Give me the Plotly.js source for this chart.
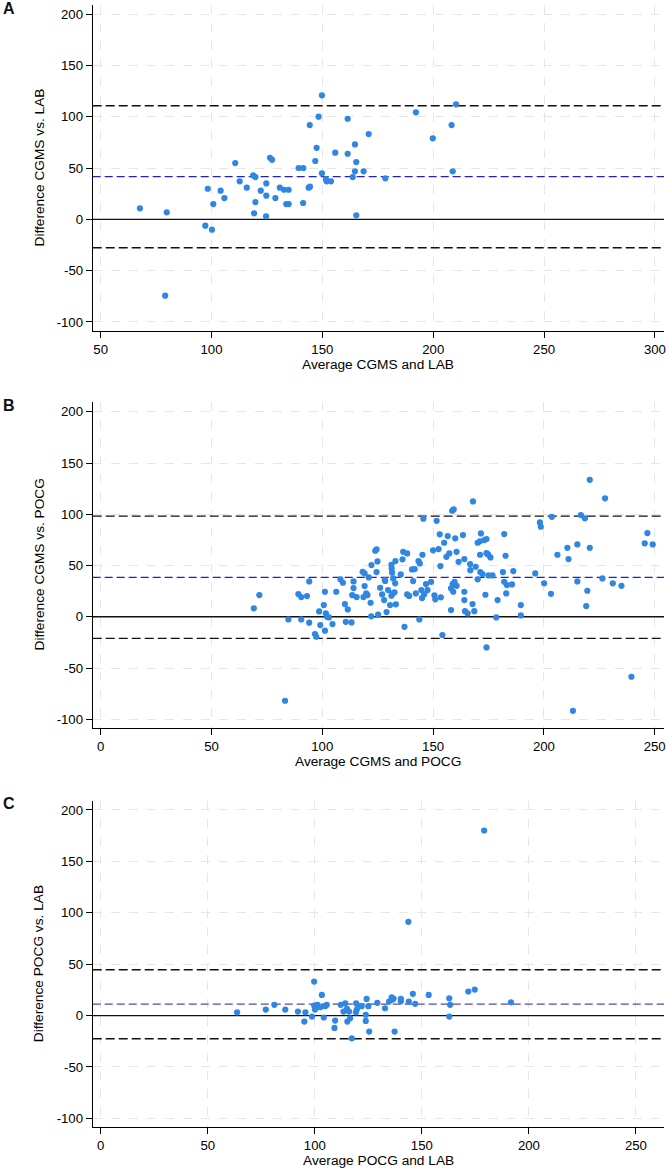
<!DOCTYPE html>
<html>
<head>
<meta charset="utf-8">
<script src="https://cdn.plot.ly/plotly-3.0.1.min.js"></script>
<style>
  html, body { margin: 0; padding: 0; background: #ffffff; }
  #chart { width: 667px; height: 1168px; }
</style>
</head>
<body>
<div id="chart"></div>
<script>
// Panel A: CGMS vs. LAB (average, difference)
const aAvg = [67.7, 79.8, 79.1, 97.2, 100.2, 98.3, 100.8, 104.1, 105.8, 110.7,
  112.7, 115.9, 118.8, 119.8, 119.2, 119.8, 122.2, 124.7, 124.7, 124.6,
  126.4, 127.3, 128.8, 130.8, 132.7, 134.8, 133.7, 134.8, 139.3, 141.4,
  141.3, 143.8, 144.4, 144.3, 146.8, 147.4, 148.3, 149.8, 149.8, 151.6,
  151.9, 153.9, 155.8, 161.4, 161.4, 164.7, 165.3, 164.7, 163.7, 168.6,
  170.9, 165.3, 178.4, 192.2, 199.8, 208.3, 208.8, 210.3];
const aDiff = [10.7, 6.8, -74.4, -6.2, -10.1, 29.8, 14.9, 27.9, 20.7, 54.8,
  37, 30.8, 42.8, 41.2, 5.8, 16.8, 27.9, 35, 23, 2.9,
  60, 58, 20.7, 30.8, 28.8, 28.8, 14.9, 14.9, 50, 50,
  15.9, 30.8, 31.8, 91.8, 56.8, 69.7, 100, 120.8, 44.8, 39.3,
  37, 37, 64.9, 98, 63.9, 73, 55.8, 46.8, 41.2, 46.8,
  83.1, 3.9, 39.9, 104.2, 78.9, 91.8, 46.8, 112];
// lower limit, mean difference, upper limit
const aLimits = [-27.7, 41.5, 110.6];

// Panel B: CGMS vs. POCG
const bAvg = [69.1, 71.6, 83.2, 84.7, 89.2, 90.5, 93.1, 90.5, 94.1, 94.1,
  96.7, 97.3, 98.6, 99.1, 100.7, 101.2, 101.6, 102.1, 103, 101.2,
  104.6, 106.3, 108.2, 109.3, 110.2, 111.5, 110.6, 113.2, 114.1, 114.1,
  113.5, 115.5, 118.2, 119.1, 119.1, 119.8, 118.6, 120.4, 121, 122.2,
  122.1, 121.8, 123.9, 124.5, 124.9, 124.5, 125.2, 126.1, 127, 127.9,
  128.2, 128.4, 129.7, 129, 130.6, 131.2, 131.7, 131.2, 131.3, 131.5,
  132, 132.9, 133, 133.2, 132.6, 135.4, 136.2, 136.5, 137.1, 138.3,
  138.3, 139.2, 140.5, 141, 141.7, 142.2, 143.4, 144, 143.8, 144.7,
  145, 145.2, 145.6, 146, 146.8, 147.5, 149.1, 150, 150.6, 151,
  151.6, 152.5, 153, 153.3, 153.5, 154.2, 155, 156, 156.6, 168,
  158.6, 159.3, 160, 163.5, 157.3, 160.6, 161.5, 164.1, 166.7, 166.8,
  169.2, 170.1, 171.1, 171.6, 173.1, 174.1, 171.2, 174.1, 174.8, 175.9,
  170.1, 171.3, 172.3, 175, 176.8, 159.7, 158.8, 158.1, 159.1, 160.6,
  158.1, 164.1, 164.1, 164.4, 165.6, 167.8, 168.6, 173.6, 174.1, 178.5,
  179.1, 181.5, 182.1, 182.7, 182.1, 183, 183.3, 185.6, 186.2, 189.6,
  189.6, 196.1, 198.2, 198.6, 200.1, 203.2, 203.6, 206.1, 210.6, 211.1,
  213.1, 215.1, 215.1, 216.7, 218.5, 219.6, 219.1, 220.7, 220.7, 226.4,
  227.6, 231.1, 235, 239.5, 245.5, 246.7, 249.1];
const bDiff = [8.2, 21.2, -81.9, -2.6, 22.1, 19.2, 20.2, -2.6, 34.5, -5.8,
  -16.9, -19.5, 5.2, -8.1, 11.4, 24.4, 3.3, 0, -0.6, -13.6,
  -7.1, 24.4, 36.5, 33.2, 12.4, 7.2, -4.9, -5.5, 34.5, 28,
  21.2, 19.2, 43.9, 42.3, 30, 22.8, 19.2, 21.2, 38.4, 50.4,
  0.4, 13.7, 64.4, 65.7, 54, 43.6, 2, 28.3, 21.8, 16.3,
  35.8, 35, 26, 4.6, 11.4, 20.5, 22.5, 50.7, 47, 43,
  37.4, 32.6, 54.3, 12.1, 23.9, 41.3, 56, 63.4, -9.8, 61.8,
  21.8, 20.3, 46.2, 34.8, 46.5, 22.8, 54.3, 52, -2.6, 26,
  18.2, 60.5, 95.6, 22, 31.9, 26, 34.1, 64.8, 21, 17,
  93.6, 66, 80.4, 49.5, 19, -17.8, 72.2, 58.5, 78.7, 112.5,
  103.4, 104.7, 76.5, 79.7, 61.8, 63.4, 53.6, 56.3, 51.4, 45.5,
  48.8, 72.2, 73.6, 81.3, 74.8, 75.8, 60.5, 62, 60.8, 57.9,
  36.5, 43.6, 41.6, 40.3, 40.3, 34.1, 31.9, 27.7, 24.4, 30.2,
  6.5, 24.4, 16.3, 5.5, 3.3, 12.4, 5.5, 21.5, -29.9, -0.6,
  16.3, 43.6, 80.7, 59.5, 34.1, 22.8, 30.9, 31.6, 44.6, 11.4,
  1.3, 42.3, 92, 87.8, 32.6, 22.4, 97.5, 60.5, 67.3, 56.3,
  -91.7, 70.6, 34.5, 99.2, 96, 25.4, 10.4, 133.6, 67.3, 37.4,
  115.5, 32.6, 30.2, -58.5, 71.6, 81.6, 70.6];
const bLimits = [-21.1, 38.4, 98.2];

// Panel C: POCG vs. LAB
const cAvg = [63.7, 77.1, 81.1, 86.2, 92.1, 95.1, 95.6, 98.7, 99.7, 99.7,
  100.1, 101.2, 102.5, 103.3, 104.2, 104.8, 105.6, 109.5, 109.2, 112.1,
  114.2, 113.4, 115, 116, 115.2, 116.5, 117.3, 119.3, 119.2, 119.6,
  120.4, 121.9, 124.2, 123.8, 123.8, 125, 125.4, 129.2, 132.8, 134.7,
  135.9, 136.4, 136.8, 137.3, 140.2, 140.2, 143.9, 143.7, 145.8, 146.9,
  153.2, 162.8, 163.2, 162.8, 171.7, 174.7, 179.1, 191.6];
const cDiff = [3.2, 5.8, 10.4, 5.8, 3.9, -5.8, 3.2, -1, 33.1, 9.7,
  5.8, 10.4, 8.1, 20.1, -1.9, 9.1, 10.4, -4.9, -12, 10.4,
  12, 3.9, 6.5, 3.9, -5.8, -2.6, -22.1, 12, 3.2, 5.8,
  9.1, 9.1, 16.2, 0.7, -5.2, 9.1, -15.6, 12.4, 7.1, 13.6,
  17.8, 15.6, 16.5, -15.6, 16.2, 13.9, 13.6, 91.2, 21.1, 11.4,
  20.1, 16.8, 10.4, -1, 23.4, 25.3, 180, 12.9];
const cLimits = [-22.6, 11.2, 44.6];

// Axis ticks and titles
const yTickVals = [-100, -50, 0, 50, 100, 150, 200];
const yTickText = ['-100', '-50', '0', '50', '100', '150', '200'];
const aXTickVals = [50, 100, 150, 200, 250, 300];
const bcXTickVals = [0, 50, 100, 150, 200, 250];
const panelLetters = ['A', 'B', 'C'];
const xTitles = ['Average CGMS and LAB', 'Average CGMS and POCG', 'Average POCG and LAB'];
const yTitles = ['Difference CGMS vs. LAB', 'Difference CGMS vs. POCG', 'Difference POCG vs. LAB'];

const W = 667, H = 1168;
const FONT = 'Liberation Sans, Arial, Helvetica, sans-serif';
const DOT = '#2f86e3';

// pixel frame of each plot area: [top, bottom]
const frames = [[5, 331], [402, 728], [800.7, 1126.7]];
const xLeft = 92.7, xRight = 664;
const xRanges = [[46.4, 304.1], [-3.6, 254.2], [-3.74, 263.1]];
const yRanges = [[-108.8, 208.8], [-108.5, 209.5], [-108.1, 209]];
const meanColors = ['#2020c0', '#2020c0', '#5549aa'];

const panels = [
  { x: aAvg, y: aDiff, lim: aLimits, ticks: aXTickVals },
  { x: bAvg, y: bDiff, lim: bLimits, ticks: bcXTickVals },
  { x: cAvg, y: cDiff, lim: cLimits, ticks: bcXTickVals }
];

const py = v => 1 - v / H;
const data = [];
const annotations = [];
const layout = {
  width: W, height: H,
  margin: { l: 0, r: 0, t: 0, b: 0, pad: 0 },
  paper_bgcolor: '#ffffff', plot_bgcolor: '#ffffff',
  showlegend: false,
  font: { family: FONT, size: 13, color: '#000' }
};

panels.forEach((p, i) => {
  const n = i === 0 ? '' : String(i + 1);
  const xa = 'x' + n, ya = 'y' + n;
  const [top, bottom] = frames[i];

  // horizontal reference lines across the full x range, drawn under the points
  const hline = (val, color, dash, width) => ({
    type: 'scatter', mode: 'lines', xaxis: xa, yaxis: ya,
    x: xRanges[i], y: [val, val],
    line: { color: color, width: width, dash: dash },
    hoverinfo: 'skip'
  });
  data.push(hline(0, '#111', 'solid', 1.3));
  data.push(hline(p.lim[0], '#111', '9px,4px', 1.4));
  data.push(hline(p.lim[2], '#111', '9px,4px', 1.4));
  data.push(hline(p.lim[1], meanColors[i], '8px,4px', 1.3));

  data.push({
    type: 'scatter', mode: 'markers', x: p.x, y: p.y,
    xaxis: xa, yaxis: ya,
    marker: { color: DOT, size: 6.2, line: { width: 0 } },
    hoverinfo: 'x+y'
  });

  layout['xaxis' + n] = {
    domain: [xLeft / W, xRight / W], anchor: ya, range: xRanges[i],
    tickmode: 'array', tickvals: p.ticks, ticktext: p.ticks.map(String),
    ticks: 'outside', ticklen: 6, tickwidth: 1, tickcolor: '#000',
    showline: true, linecolor: '#000', linewidth: 1,
    showgrid: true, gridcolor: '#e6e6e6', gridwidth: 1, griddash: 'dash',
    zeroline: false, automargin: false,
    tickfont: { family: FONT, size: 13.2, color: '#000' }
  };
  layout['yaxis' + n] = {
    domain: [py(bottom), py(top)], anchor: xa, range: yRanges[i],
    tickmode: 'array', tickvals: yTickVals, ticktext: yTickText,
    ticks: 'outside', ticklen: 6, tickwidth: 1, tickcolor: '#000',
    showline: true, linecolor: '#000', linewidth: 1,
    showgrid: true, gridcolor: '#e6e6e6', gridwidth: 1, griddash: 'dash',
    zeroline: false, automargin: false,
    tickfont: { family: FONT, size: 13.2, color: '#000' }
  };

  // axis titles and panel letter
  annotations.push({
    xref: 'paper', yref: 'paper',
    x: (xLeft + xRight) / 2 / W, y: py(bottom + 33.5),
    xanchor: 'center', yanchor: 'middle', showarrow: false,
    text: xTitles[i], font: { family: FONT, size: 13.7, color: '#000' }
  });
  annotations.push({
    xref: 'paper', yref: 'paper',
    x: 38.5 / W, y: py((top + bottom) / 2),
    xanchor: 'center', yanchor: 'middle', showarrow: false, textangle: -90,
    text: yTitles[i], font: { family: FONT, size: 13.7, color: '#000' }
  });
  annotations.push({
    xref: 'paper', yref: 'paper',
    x: 1 / W, y: py(top + 3),
    xanchor: 'left', yanchor: 'middle', showarrow: false,
    text: '<b>' + panelLetters[i] + '</b>',
    font: { family: FONT, size: 16, color: '#111' }
  });
});

layout.annotations = annotations;

Plotly.newPlot('chart', data, layout, { displayModeBar: false, staticPlot: true });
</script>
</body>
</html>
